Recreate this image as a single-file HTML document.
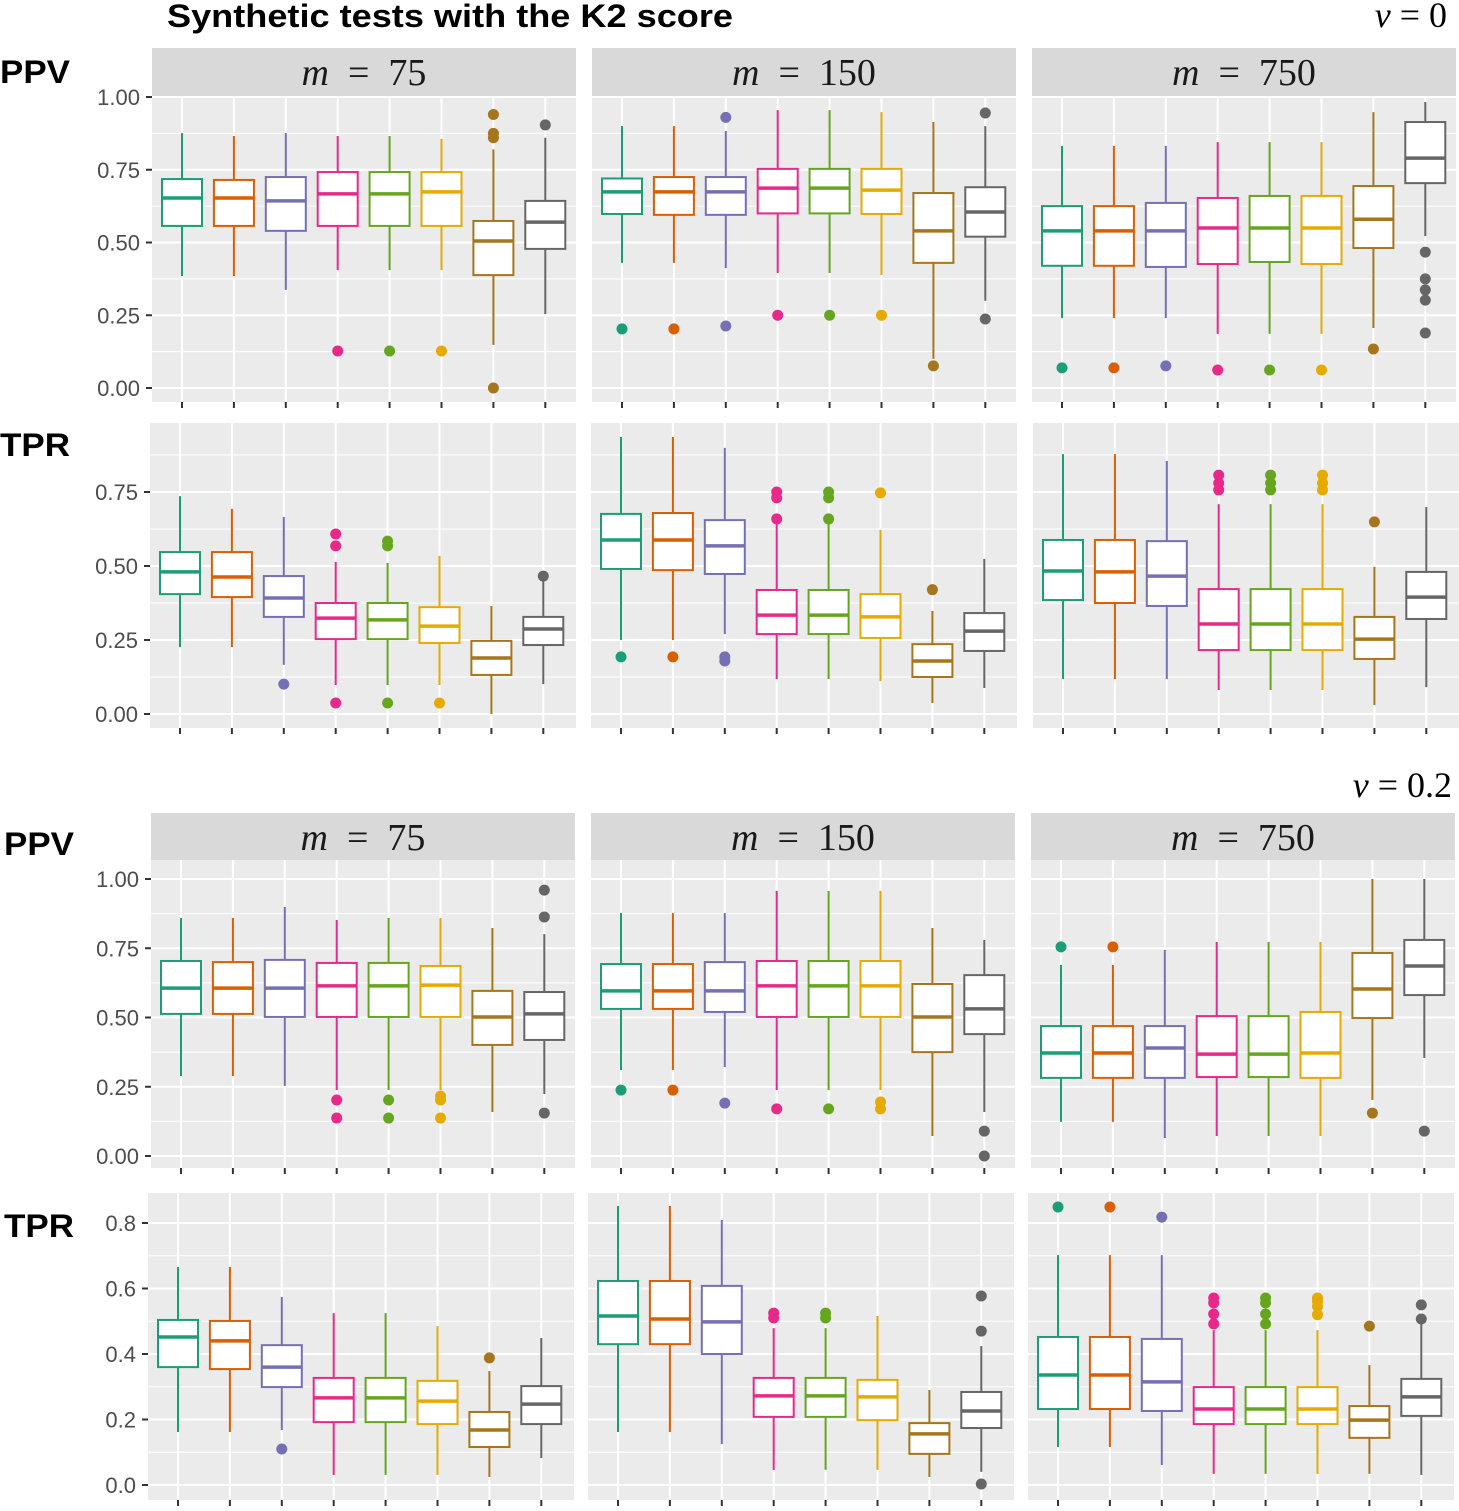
<!DOCTYPE html>
<html><head><meta charset="utf-8"><style>
body{margin:0;background:#fff}
svg text{font-family:"Liberation Sans",sans-serif}
</style></head><body>
<svg id="c" width="1459" height="1506" xmlns="http://www.w3.org/2000/svg">
<text x="167" y="27" font-size="32" font-weight="bold" textLength="566" lengthAdjust="spacingAndGlyphs">Synthetic tests with the K2 score</text>
<text x="1447" y="27" text-anchor="end" font-size="36" font-family="Liberation Serif" style="font-family:'Liberation Serif',serif"><tspan font-style="italic">ν</tspan> = 0</text>
<text x="1452" y="797" text-anchor="end" font-size="36" font-family="Liberation Serif" style="font-family:'Liberation Serif',serif"><tspan font-style="italic">ν</tspan> = 0.2</text>
<text x="0" y="83" font-size="32" font-weight="bold" textLength="70" lengthAdjust="spacingAndGlyphs">PPV</text>
<text x="0" y="456" font-size="32" font-weight="bold" textLength="70" lengthAdjust="spacingAndGlyphs">TPR</text>
<text x="4" y="855" font-size="32" font-weight="bold" textLength="70" lengthAdjust="spacingAndGlyphs">PPV</text>
<text x="4" y="1237" font-size="32" font-weight="bold" textLength="70" lengthAdjust="spacingAndGlyphs">TPR</text>
</svg>
<script>
const methodColors=["#1b9e77","#d95f02","#7570b3","#e7298a","#66a61e","#e6ab02","#a6761d","#666666"];
const stripLabels=["75","150","750"];
const ppvTicks=[0,0.25,0.5,0.75,1];
const ppvTickLabels=["0.00","0.25","0.50","0.75","1.00"];
const tpr0Ticks=[0,0.25,0.5,0.75];
const tpr0TickLabels=["0.00","0.25","0.50","0.75"];
const tpr2Ticks=[0,0.2,0.4,0.6,0.8];
const tpr2TickLabels=["0.0","0.2","0.4","0.6","0.8"];
// box stats: [low whisker, q1, median, q3, high whisker]
const ppv0_m75=[[0.385,0.557,0.653,0.718,0.876],[0.385,0.557,0.653,0.715,0.866],[0.337,0.54,0.643,0.725,0.876],[0.405,0.557,0.667,0.742,0.866],[0.405,0.557,0.667,0.742,0.866],[0.405,0.557,0.674,0.742,0.856],[0.148,0.388,0.505,0.574,0.82],[0.254,0.478,0.57,0.643,0.86]];
const ppv0_m75_out=[[],[],[],[0.127],[0.127],[0.127],[0.94,0.875,0.86,0.0],[0.904]];
const ppv0_m150=[[0.43,0.598,0.674,0.72,0.9],[0.43,0.595,0.674,0.725,0.9],[0.412,0.595,0.674,0.725,0.883],[0.395,0.6,0.687,0.753,0.955],[0.395,0.6,0.687,0.753,0.955],[0.388,0.598,0.68,0.753,0.948],[0.1,0.43,0.54,0.67,0.914],[0.3,0.52,0.605,0.69,0.9]];
const ppv0_m150_out=[[0.203],[0.203],[0.93,0.213],[0.25],[0.25],[0.25],[0.076],[0.945,0.237]];
const ppv0_m750=[[0.24,0.42,0.54,0.625,0.832],[0.24,0.42,0.54,0.625,0.832],[0.24,0.416,0.54,0.636,0.832],[0.186,0.426,0.55,0.653,0.845],[0.186,0.433,0.55,0.66,0.845],[0.186,0.426,0.55,0.66,0.845],[0.206,0.481,0.58,0.694,0.948],[0.522,0.704,0.79,0.914,0.983]];
const ppv0_m750_out=[[0.069],[0.069],[0.076],[0.062],[0.062],[0.062],[0.134],[0.467,0.375,0.337,0.302,0.189]];
const tpr0_m75=[[0.226,0.405,0.48,0.547,0.736],[0.226,0.395,0.463,0.547,0.693],[0.166,0.328,0.392,0.466,0.666],[0.098,0.253,0.324,0.375,0.514],[0.098,0.253,0.318,0.375,0.51],[0.098,0.24,0.297,0.361,0.534],[0.0,0.132,0.189,0.247,0.365],[0.101,0.233,0.287,0.328,0.453]];
const tpr0_m75_out=[[],[],[0.101],[0.608,0.568,0.037],[0.584,0.568,0.037],[0.037],[],[0.466]];
const tpr0_m150=[[0.25,0.49,0.588,0.676,0.936],[0.25,0.486,0.588,0.679,0.936],[0.27,0.473,0.568,0.655,0.899],[0.118,0.27,0.334,0.419,0.669],[0.118,0.27,0.334,0.419,0.669],[0.111,0.257,0.328,0.405,0.622],[0.037,0.125,0.179,0.236,0.348],[0.088,0.213,0.28,0.341,0.524]];
const tpr0_m150_out=[[0.193],[0.193],[0.193,0.179],[0.75,0.73,0.659],[0.75,0.73,0.659],[0.747],[0.42],[]];
const tpr0_m750=[[0.118,0.385,0.483,0.588,0.878],[0.118,0.375,0.48,0.588,0.878],[0.118,0.365,0.466,0.584,0.855],[0.081,0.216,0.304,0.422,0.709],[0.081,0.216,0.304,0.422,0.709],[0.081,0.216,0.304,0.422,0.709],[0.03,0.186,0.253,0.328,0.497],[0.091,0.321,0.395,0.48,0.699]];
const tpr0_m750_out=[[],[],[],[0.807,0.78,0.757],[0.807,0.78,0.757],[0.807,0.78,0.757],[0.649],[]];
const ppv2_m75=[[0.289,0.513,0.606,0.704,0.859],[0.289,0.513,0.606,0.7,0.859],[0.253,0.502,0.606,0.708,0.899],[0.238,0.502,0.614,0.697,0.852],[0.238,0.502,0.614,0.697,0.859],[0.238,0.502,0.617,0.686,0.859],[0.159,0.401,0.502,0.596,0.823],[0.224,0.419,0.513,0.592,0.801]];
const ppv2_m75_out=[[],[],[],[0.202,0.137],[0.202,0.137],[0.216,0.202,0.137],[],[0.96,0.863,0.155]];
const ppv2_m150=[[0.31,0.531,0.596,0.693,0.877],[0.31,0.531,0.596,0.693,0.877],[0.321,0.52,0.596,0.7,0.877],[0.238,0.502,0.614,0.704,0.957],[0.238,0.502,0.614,0.704,0.957],[0.238,0.502,0.614,0.704,0.957],[0.072,0.375,0.502,0.621,0.823],[0.159,0.44,0.531,0.653,0.78]];
const ppv2_m150_out=[[0.238],[0.238],[0.191],[0.17],[0.17],[0.195,0.17],[],[0.09,0.0]];
const ppv2_m750=[[0.123,0.282,0.372,0.469,0.69],[0.123,0.282,0.372,0.469,0.69],[0.065,0.282,0.39,0.469,0.744],[0.072,0.285,0.368,0.505,0.773],[0.072,0.285,0.368,0.505,0.773],[0.072,0.282,0.372,0.52,0.773],[0.202,0.498,0.603,0.733,1.0],[0.354,0.581,0.686,0.78,1.0]];
const ppv2_m750_out=[[0.755],[0.755],[],[],[],[],[0.155],[0.09]];
const tpr2_m75=[[0.162,0.36,0.452,0.504,0.666],[0.162,0.354,0.44,0.501,0.666],[0.168,0.299,0.36,0.427,0.574],[0.031,0.192,0.266,0.327,0.525],[0.031,0.192,0.266,0.327,0.525],[0.031,0.186,0.256,0.318,0.485],[0.024,0.116,0.168,0.223,0.348],[0.082,0.186,0.247,0.302,0.449]];
const tpr2_m75_out=[[],[],[0.11],[],[],[],[0.388],[]];
const tpr2_m150=[[0.162,0.43,0.516,0.623,0.852],[0.162,0.43,0.507,0.623,0.852],[0.125,0.4,0.498,0.608,0.809],[0.046,0.208,0.272,0.327,0.479],[0.046,0.208,0.272,0.327,0.479],[0.046,0.198,0.269,0.321,0.516],[0.024,0.095,0.156,0.189,0.29],[0.04,0.174,0.226,0.284,0.424]];
const tpr2_m150_out=[[],[],[],[0.525,0.51],[0.525,0.51],[],[],[0.577,0.47,0.003]];
const tpr2_m750=[[0.116,0.232,0.336,0.452,0.702],[0.116,0.232,0.336,0.452,0.702],[0.061,0.226,0.315,0.446,0.702],[0.034,0.186,0.232,0.299,0.473],[0.034,0.186,0.232,0.299,0.473],[0.034,0.186,0.232,0.299,0.473],[0.034,0.144,0.198,0.241,0.366],[0.031,0.211,0.269,0.324,0.519]];
const tpr2_m750_out=[[0.849],[0.849],[0.818],[0.571,0.556,0.522,0.492],[0.571,0.556,0.522,0.492],[0.571,0.56,0.545,0.52],[0.485],[0.55,0.507]];

const rows=[
 {top:96,bot:402,y0:388,k:291,lefts:[152,592,1032],w:424,ticks:ppvTicks,labels:ppvTickLabels,strip:48,data:[ppv0_m75,ppv0_m150,ppv0_m750],out:[ppv0_m75_out,ppv0_m150_out,ppv0_m750_out],name:'ppv-nu0'},
 {top:423,bot:728,y0:714,k:296,lefts:[150,591,1033],w:426,ticks:tpr0Ticks,labels:tpr0TickLabels,strip:null,data:[tpr0_m75,tpr0_m150,tpr0_m750],out:[tpr0_m75_out,tpr0_m150_out,tpr0_m750_out],name:'tpr-nu0'},
 {top:860,bot:1168,y0:1156,k:277,lefts:[151,591,1031],w:424,ticks:ppvTicks,labels:ppvTickLabels,strip:813,data:[ppv2_m75,ppv2_m150,ppv2_m750],out:[ppv2_m75_out,ppv2_m150_out,ppv2_m750_out],name:'ppv-nu02'},
 {top:1193,bot:1500,y0:1485,k:327.5,lefts:[148,588,1028],w:426,ticks:tpr2Ticks,labels:tpr2TickLabels,strip:null,data:[tpr2_m75,tpr2_m150,tpr2_m750],out:[tpr2_m75_out,tpr2_m150_out,tpr2_m750_out],name:'tpr-nu02'}
];
const svg=document.getElementById('c');
const NS="http://www.w3.org/2000/svg";
function mk(tag,attrs,parent){const e=document.createElementNS(NS,tag);for(const a in attrs)e.setAttribute(a,attrs[a]);(parent||svg).appendChild(e);return e;}
rows.forEach((r,ri)=>{
 const yS=v=>r.y0-r.k*v;
 r.lefts.forEach((L,ci)=>{
  const g=mk('g',{});
  
  
  mk('rect',{x:L,y:r.top,width:r.w,height:r.bot-r.top,fill:'#ebebeb'},g);
  const step=r.ticks[1]-r.ticks[0];
  for(let i=0;i<r.ticks.length;i++){
    const t=r.ticks[i];
    mk('line',{x1:L,x2:L+r.w,y1:yS(t),y2:yS(t),stroke:'#fff','stroke-width':2},g);
    const m=t+step/2; if(yS(m)>r.top) mk('line',{x1:L,x2:L+r.w,y1:yS(m),y2:yS(m),stroke:'#fff','stroke-width':1},g);
  }
  const xs=i=>L+30+i*51.9;
  for(let i=0;i<8;i++){
    mk('line',{x1:xs(i),x2:xs(i),y1:r.top,y2:r.bot,stroke:'#fff','stroke-width':2},g);
    mk('line',{x1:xs(i),x2:xs(i),y1:r.bot,y2:r.bot+6,stroke:'#333','stroke-width':2},g);
  }
  r.data[ci].forEach((b,i)=>{
    const c=methodColors[i],x=xs(i),hw=20;
    const bg=mk('g',{},g);
    
    
    mk('line',{x1:x,x2:x,y1:yS(b[0]),y2:yS(b[4]),stroke:c,'stroke-width':2},bg);
    mk('rect',{x:x-hw,y:yS(b[3]),width:hw*2,height:yS(b[1])-yS(b[3]),fill:'#fff',stroke:c,'stroke-width':2},bg);
    mk('line',{x1:x-hw,x2:x+hw,y1:yS(b[2]),y2:yS(b[2]),stroke:c,'stroke-width':3.5},bg);
    r.out[ci][i].forEach(o=>{
      const p=mk('circle',{cx:x,cy:yS(o),r:5.5,fill:c},bg);
      
      
    });
  });
  if(r.strip!==null){
    const s=mk('rect',{x:L,y:r.strip,width:r.w,height:r.top-r.strip,fill:'#d9d9d9'});
    
    
    const t=mk('text',{x:L+r.w/2,y:r.strip+37,'text-anchor':'middle','font-size':38,fill:'#1a1a1a',style:"font-family:'Liberation Serif',serif"});
    
    
    t.innerHTML='<tspan font-style="italic">m</tspan>\u2002=\u2002'+stripLabels[ci];
  }
 });
 r.ticks.forEach((t,i)=>{
  const L=r.lefts[0];
  mk('line',{x1:L-6,x2:L,y1:yS(t),y2:yS(t),stroke:'#333','stroke-width':2});
  const tx=mk('text',{x:L-12,y:yS(t)+8,'text-anchor':'end','font-size':22,fill:'#4d4d4d'});
  
  
  tx.textContent=r.labels[i];
 });
});
</script>
</body></html>
